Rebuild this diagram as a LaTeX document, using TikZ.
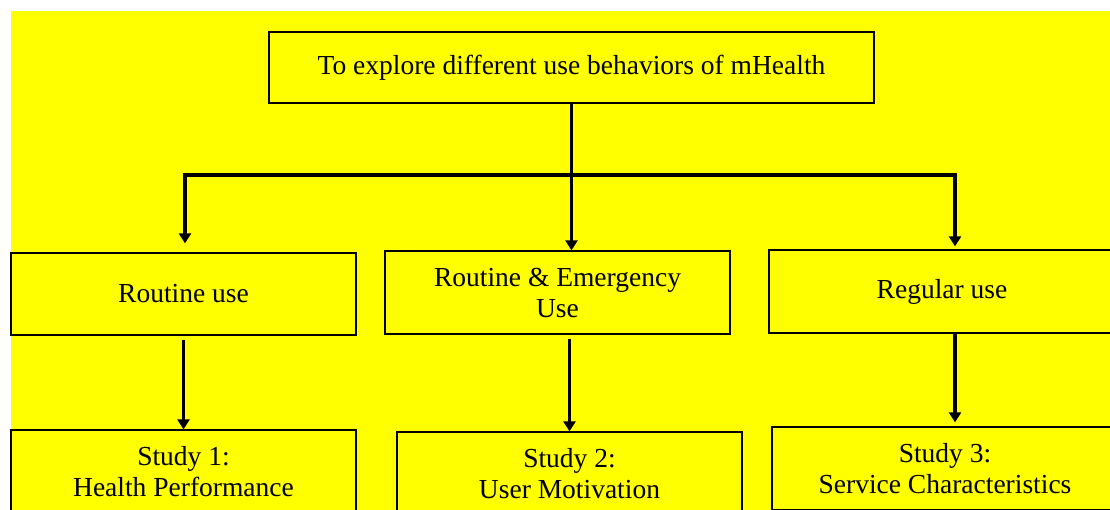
\documentclass[tikz,border=0pt]{standalone}
\usepackage{fontspec}
\setmainfont{Liberation Serif}
\usetikzlibrary{arrows.meta,positioning,calc}
\definecolor{bg}{HTML}{FFFF00}
\tikzset{
  box/.style={draw=black,line width=1.3pt,fill=bg,align=center,inner sep=0pt,minimum width=345pt,minimum height=82pt,font=\rmfamily\fontsize{27.5}{31}\selectfont},
  ar/.style={-{Triangle[length=10pt,width=12pt]},line width=3.4pt},
  arr/.style={{Triangle[length=10pt,width=12pt]}-{Triangle[length=10pt,width=12pt]},line width=3.4pt},
}

\begin{document}
\begin{tikzpicture}[x=1pt,y=-1pt]
\useasboundingbox (0,0) rectangle (1110,509);
\clip (0,0) rectangle (1110,509);
\fill[bg] (11,11) rectangle (1130,530);
\node[box,minimum width=605pt,minimum height=71pt] (goal) at (571.5,67.5) {To explore different use behaviors of mHealth};
\node[box] (use1) at (183.5,294) {Routine use};
\node[box,minimum height=83pt] (use2) at (557.5,292.5) {Routine \& Emergency\\Use};
\node[box,minimum width=346pt,minimum height=83pt] (use3) at (942,291.5) {Regular use};
\node[box,minimum height=83pt] (st1) at (183.5,471.5) {Study 1:\\Health Performance};
\node[box,minimum height=83pt] (st2) at (569.5,473.5) {Study 2:\\User Motivation};
\node[box,minimum width=346pt,minimum height=83pt] (st3) at (945,468.5) {Study 3:\\Service Characteristics};
\coordinate (lft) at (185,175);
\coordinate (rgt) at (955,175);
\draw[ar] (goal.south) -- (goal.south |- use2.north);
\draw[arr,shorten <=9pt,shorten >=3pt] (lft |- use1.north) -- (lft) -- (rgt) -- (rgt |- use3.north);
\draw[ar,shorten <=4pt] (use1.south) -- (st1.north);
\draw[ar,shorten <=4pt] (st2.north |- use2.south) -- (st2.north);
\draw[ar,shorten >=4pt] (rgt |- use3.south) -- (rgt |- st3.north);
\end{tikzpicture}
\end{document}
